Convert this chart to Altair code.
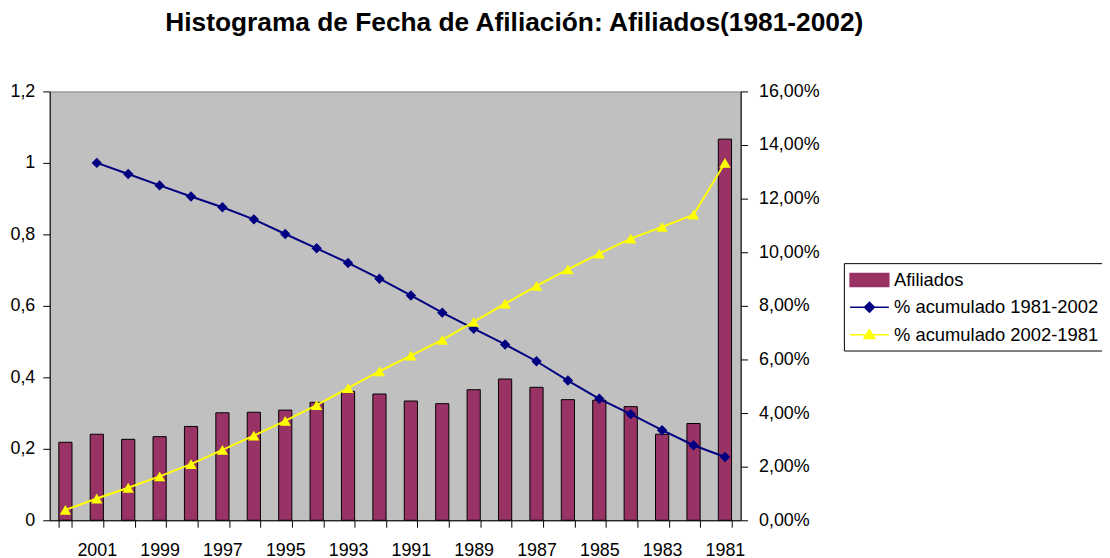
import altair as alt
import pandas as pd

# ---- data ----
years = [str(y) for y in range(2002, 1980, -1)]  # 2002 ... 1981

# percentage of affiliates per year (right axis, %)
afiliados_pct = [2.91, 3.21, 3.02, 3.12, 3.50, 4.01, 4.03, 4.11, 4.40, 4.81, 4.71,
                 4.45, 4.35, 4.87, 5.27, 4.96, 4.50, 4.48, 4.24, 3.21, 3.61, 14.22]

# cumulative share 1981-2002 (left axis), plotted from 2001 to 1981
acum_1981_2002 = [1.0, 0.969, 0.937, 0.906, 0.876, 0.842, 0.801, 0.761, 0.720, 0.676,
                  0.629, 0.581, 0.536, 0.492, 0.445, 0.391, 0.340, 0.297, 0.252, 0.210,
                  0.177]

# cumulative share 2002-1981 (left axis), plotted from 2002 to 1981
acum_2002_1981 = [0.029, 0.061, 0.091, 0.123, 0.157, 0.197, 0.237, 0.278, 0.322, 0.370,
                  0.417, 0.461, 0.505, 0.555, 0.606, 0.656, 0.702, 0.746, 0.788, 0.821,
                  0.855, 1.0]

series_names = ["Afiliados", "% acumulado 1981-2002", "% acumulado 2002-1981"]
series_colors = ["#993366", "#000080", "#FFFF00"]
series_strokes = ["#000000", "#000080", "#FFFF00"]
legend_paths = [
    "M-1.075,-0.65H2.825V0.65H-1.075Z",
    "M-1.075,0H2.825M0.875,-0.5L1.375,0L0.875,0.5L0.375,0Z",
    "M-1.075,0H2.825M0.875,-0.5L1.425,0.4H0.325Z",
]
left_ticks = [0, 0.2, 0.4, 0.6, 0.8, 1.0, 1.2]
right_ticks = [0, 2, 4, 6, 8, 10, 12, 14, 16]

title_text = "Histograma de Fecha de Afiliación: Afiliados(1981-2002)"

# ---- tables ----
bars_df = pd.DataFrame({"year": years, "pct": afiliados_pct})
lines_df = pd.concat([
    pd.DataFrame({"year": years[1:], "value": acum_1981_2002, "series": series_names[1]}),
    pd.DataFrame({"year": years, "value": acum_2002_1981, "series": series_names[2]}),
], ignore_index=True)
legend_df = pd.DataFrame({"year": years[:3], "value": [0, 0, 0], "series": series_names})

FONT = "Liberation Sans"
AXIS_FS = 18

color_scale = alt.Scale(domain=series_names, range=series_colors)

x_enc = alt.X(
    "year:N", sort=years,
    scale=alt.Scale(domain=years, paddingInner=0.58, paddingOuter=0.29),
    axis=alt.Axis(title=None, labelAngle=0, tickBand="extent", tickSize=7,
                  tickColor="black", domainColor="black", labelColor="black",
                  labelFont=FONT, labelFontSize=AXIS_FS, labelPadding=14,
                  labelOverlap=False, grid=False,
                  labelExpr="toNumber(datum.value) % 2 == 1 ? datum.value : ''"),
)

y_left = alt.Y(
    "value:Q",
    scale=alt.Scale(domain=[0, 1.2], nice=False, zero=True),
    axis=alt.Axis(orient="left", title=None, values=left_ticks, tickSize=7,
                  tickColor="black", domainColor="black", labelColor="black",
                  labelFont=FONT, labelFontSize=AXIS_FS, labelPadding=8, grid=False,
                  labelExpr="replace(format(datum.value, '.2~f'), '.', ',')"),
)

y_right = alt.Y(
    "pct:Q",
    scale=alt.Scale(domain=[0, 16], nice=False, zero=True),
    axis=alt.Axis(orient="right", title=None, values=right_ticks, tickSize=7,
                  tickColor="black", domainColor="black", labelColor="black",
                  labelFont=FONT, labelFontSize=AXIS_FS, labelPadding=11, grid=False,
                  labelExpr="replace(format(datum.value, '.2f'), '.', ',') + '%'"),
)

bars = alt.Chart(bars_df).mark_bar(
    fill=series_colors[0], stroke="black", strokeWidth=1
).encode(x=x_enc, y=y_right)

nolegend_color = alt.Color("series:N", scale=color_scale, legend=None)


def line_layer(name):
    return alt.Chart(lines_df).transform_filter(
        alt.datum.series == name
    ).mark_line(strokeWidth=2).encode(x=x_enc, y=y_left, color=nolegend_color)


def point_layer(name, shape, size):
    return alt.Chart(lines_df).transform_filter(
        alt.datum.series == name
    ).mark_point(shape=shape, filled=True, size=size, opacity=1).encode(
        x=x_enc, y=y_left, color=nolegend_color)


legend_def = alt.Legend(
    orient="none", legendX=800, legendY=173, title=None,
    labelFont=FONT, labelFontSize=18.5, labelColor="black", labelLimit=400,
    symbolSize=400, symbolStrokeWidth=1.5, symbolOpacity=1,
    strokeColor="black", fillColor="white", padding=6,
    labelOffset=22.5, rowPadding=6.5,
)

legend_layer = alt.Chart(legend_df).transform_filter("false").mark_point(
    filled=True, opacity=1
).encode(
    x=x_enc, y=y_left,
    color=alt.Color("series:N", scale=color_scale, legend=legend_def),
    shape=alt.Shape("series:N", scale=alt.Scale(domain=series_names, range=legend_paths),
                    legend=legend_def),
    stroke=alt.Stroke("series:N", scale=alt.Scale(domain=series_names, range=series_strokes),
                      legend=legend_def),
)

lines_group = alt.layer(
    legend_layer,
    line_layer(series_names[1]),
    point_layer(series_names[1], "diamond", 110),
    line_layer(series_names[2]),
    point_layer(series_names[2], "triangle-up", 130),
)

chart = alt.layer(bars, lines_group).resolve_scale(
    y="independent"
).properties(
    width=696, height=432,
    title=alt.TitleParams(text=title_text, font=FONT, fontSize=26.5, fontWeight="bold",
                          color="black", anchor="middle", frame="group", dx=120,
                          offset=25, baseline="alphabetic"),
    autosize=alt.AutoSizeParams(type="none"),
    padding={"left": 42, "top": 82, "right": 364, "bottom": 40},
    background="white",
).configure_view(fill="#C0C0C0", stroke="#808080", strokeWidth=1)

chart.save("out.html", embed_options={"renderer": "svg", "actions": False})
